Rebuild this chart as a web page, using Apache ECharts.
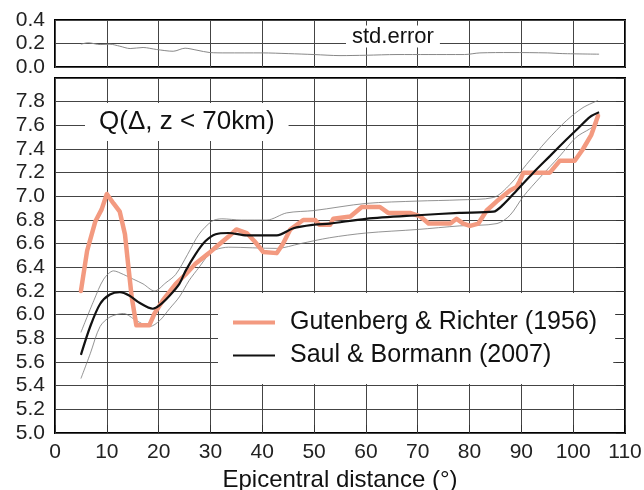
<!DOCTYPE html>
<html>
<head>
<meta charset="utf-8">
<script src="https://cdn.jsdelivr.net/npm/echarts@6/dist/echarts.min.js"></script>
<style>
html,body{margin:0;padding:0;background:#fff;}
#chart{width:644px;height:490px;}
</style>
</head>
<body>
<div id="chart"></div>
<script>
// Gutenberg & Richter (1956)
var grX = [5, 6.2, 7.8, 9, 10, 11.3, 12.5, 13.5, 14.1, 14.8, 15.7, 18.2, 19.2, 20.8, 23.3, 25.2, 27.1, 29.7, 31.3, 33.5, 35, 37, 38.5, 40.2, 42.8, 44, 45.4, 47.9, 50.2, 51, 53.1, 53.7, 57, 59.2, 62.7, 64.3, 68.5, 70.5, 72.1, 76.3, 77.5, 78.8, 80.1, 81.7, 83.3, 85.3, 87.8, 89.1, 89.7, 90.4, 95.5, 97.4, 100.3, 101.9, 103.5, 104.8];
var grY = [6.2, 6.54, 6.79, 6.89, 7.02, 6.94, 6.87, 6.68, 6.43, 6.15, 5.91, 5.91, 6.01, 6.12, 6.26, 6.34, 6.43, 6.52, 6.58, 6.66, 6.72, 6.69, 6.62, 6.53, 6.52, 6.6, 6.72, 6.8, 6.8, 6.76, 6.76, 6.81, 6.83, 6.91, 6.91, 6.86, 6.86, 6.83, 6.77, 6.77, 6.81, 6.77, 6.75, 6.77, 6.88, 6.96, 7.05, 7.08, 7.13, 7.2, 7.2, 7.3, 7.3, 7.4, 7.52, 7.68];
// Saul & Bormann (2007)
var sbX = [5, 6.8, 8.7, 10.6, 12.5, 14.4, 16.3, 18.9, 20.2, 22.1, 24, 25.2, 27.1, 29, 31, 33.5, 37, 42.8, 46, 50, 53, 60, 70, 78, 84.6, 86.5, 89.1, 92.3, 95.5, 98.7, 101.3, 103.2, 105];
var sbY = [5.66, 5.9, 6.09, 6.17, 6.19, 6.16, 6.1, 6.05, 6.08, 6.16, 6.26, 6.37, 6.51, 6.62, 6.68, 6.69, 6.67, 6.67, 6.73, 6.76, 6.77, 6.81, 6.84, 6.86, 6.87, 6.93, 7.05, 7.2, 7.34, 7.48, 7.59, 7.67, 7.71];
// upper bound
var upX = [5, 7.5, 9.4, 11.3, 13.2, 15.1, 17, 19.2, 21.4, 23.3, 25.6, 27.8, 30.3, 32.2, 36, 40.9, 44.7, 50, 60, 70, 78, 84.6, 87.8, 91, 94.9, 98.7, 101.9, 104.8];
var upY = [5.85, 6.12, 6.3, 6.37, 6.34, 6.3, 6.26, 6.2, 6.27, 6.34, 6.51, 6.68, 6.79, 6.81, 6.8, 6.8, 6.86, 6.88, 6.94, 6.96, 6.97, 6.99, 7.1, 7.27, 7.47, 7.64, 7.75, 7.81];
// lower bound
var loX = [5, 6.8, 8.7, 10.6, 13.2, 15.7, 18.3, 20.2, 22.1, 24, 25.9, 27.8, 29.7, 31, 33.5, 42.8, 47.3, 53, 60, 70, 78, 85.3, 87.8, 90.4, 93.6, 97.4, 100.6, 103.2, 104.8];
var loY = [5.46, 5.67, 5.9, 5.98, 6.01, 5.95, 5.9, 5.95, 6.05, 6.15, 6.29, 6.4, 6.51, 6.55, 6.57, 6.56, 6.6, 6.65, 6.69, 6.72, 6.75, 6.77, 6.84, 7.0, 7.16, 7.34, 7.5, 7.57, 7.62];
// std. error
var seX = [5, 6.4, 8.7, 10.6, 12.5, 14.5, 17, 19.6, 22.8, 25.1, 27.4, 29.9, 33, 40, 45, 50, 55, 60, 66, 72, 79, 82, 88, 95, 98, 105];
var seY = [0.194, 0.206, 0.191, 0.194, 0.177, 0.157, 0.166, 0.149, 0.134, 0.16, 0.143, 0.123, 0.12, 0.12, 0.114, 0.106, 0.097, 0.1, 0.106, 0.106, 0.106, 0.12, 0.123, 0.12, 0.114, 0.109];

var nameGR = 'Gutenberg & Richter (1956)';
var nameSB = 'Saul & Bormann (2007)';

function zip(xs, ys){ return xs.map(function(x,i){ return [x, ys[i]]; }); }

var FONT = "'Liberation Sans', Arial, Helvetica, sans-serif";
var gridLine = {show:true, lineStyle:{color:'#444', width:1}};
var lbl = {fontSize:21, color:'#222', fontFamily:FONT};
var legText = {fontSize:25, color:'#111', fontFamily:FONT, lineHeight:24, padding:[0,0,0,10]};

var chart = echarts.init(document.getElementById('chart'), null, {renderer:'canvas'});
chart.setOption({
  animation:false,
  backgroundColor:'#fff',
  grid:[
    {left:55, right:19, top:20, height:47, show:true, borderColor:'#000', borderWidth:2, outerBoundsMode:'none', containLabel:false},
    {left:55, right:19, top:78, height:355, show:true, borderColor:'#000', borderWidth:2, outerBoundsMode:'none', containLabel:false}
  ],
  title:[
    {text:'Q(Δ, z < 70km)', left:85, top:103, backgroundColor:'#fff', padding:[6,14,6,14],
     textStyle:{fontSize:26, fontWeight:'normal', color:'#111', fontFamily:FONT, lineHeight:26}},
    {text:'std.error', left:346, top:26, backgroundColor:'#fff', padding:[0,6,0,6],
     textStyle:{fontSize:22, fontWeight:'normal', color:'#111', fontFamily:FONT, lineHeight:21}}
  ],
  legend:[
    {data:[nameGR], orient:'vertical', left:218, top:293,
     backgroundColor:'#fff', padding:[17,18,6,15],
     icon:'rect', itemWidth:42, itemHeight:4, textStyle:legText},
    {data:[nameSB], orient:'vertical', left:218, top:338,
     backgroundColor:'#fff', padding:[5,62,16,15],
     icon:'rect', itemWidth:42, itemHeight:2, textStyle:legText}
  ],
  xAxis:[
    {gridIndex:0, type:'value', min:0, max:110, interval:10,
     axisLabel:{show:false}, axisTick:{show:false}, axisLine:{show:false}, splitLine:gridLine},
    {gridIndex:1, type:'value', min:0, max:110, interval:10,
     axisLabel:Object.assign({margin:9}, lbl), axisTick:{show:true, inside:true, length:8, lineStyle:{color:'#333'}},
     axisLine:{show:false}, splitLine:gridLine,
     name:'Epicentral distance (°)', nameLocation:'middle', nameGap:31,
     nameTextStyle:{fontSize:24, color:'#111', fontFamily:FONT}}
  ],
  yAxis:[
    {gridIndex:0, type:'value', min:0, max:0.4, interval:0.2,
     axisLabel:Object.assign({margin:10, formatter:function(v){return v.toFixed(1);}}, lbl),
     axisTick:{show:false}, axisLine:{show:false}, splitLine:gridLine},
    {gridIndex:1, type:'value', min:5, max:8, interval:0.2,
     axisLabel:Object.assign({margin:10, showMaxLabel:false, formatter:function(v){return v.toFixed(1);}}, lbl),
     axisTick:{show:false}, axisLine:{show:false}, splitLine:gridLine},
    {gridIndex:1, type:'value', min:5, max:8, interval:0.2, position:'right', z:10,
     axisLabel:{show:false}, axisLine:{show:false}, splitLine:{show:false},
     axisTick:{show:true, inside:true, length:9, lineStyle:{color:'#333', width:1}}}
  ],
  series:[
    {type:'line', name:'std.error', xAxisIndex:0, yAxisIndex:0, data:zip(seX, seY),
     symbol:'none', smooth:0.3, lineStyle:{color:'#888', width:1}},
    {type:'line', name:'upper', xAxisIndex:1, yAxisIndex:1, data:zip(upX, upY),
     symbol:'none', smooth:0.3, lineStyle:{color:'#777', width:0.8}},
    {type:'line', name:'lower', xAxisIndex:1, yAxisIndex:1, data:zip(loX, loY),
     symbol:'none', smooth:0.3, lineStyle:{color:'#777', width:0.8}},
    {type:'line', name:nameGR, xAxisIndex:1, yAxisIndex:1, data:zip(grX, grY),
     symbol:'none', smooth:false, itemStyle:{color:'#f39a80'},
     lineStyle:{color:'#f39a80', width:4.5, join:'round', cap:'round'}},
    {type:'line', name:nameSB, xAxisIndex:1, yAxisIndex:1, data:zip(sbX, sbY),
     symbol:'none', smooth:0.3, itemStyle:{color:'#111'},
     lineStyle:{color:'#111', width:2.2}}
  ]
});
</script>
</body>
</html>
